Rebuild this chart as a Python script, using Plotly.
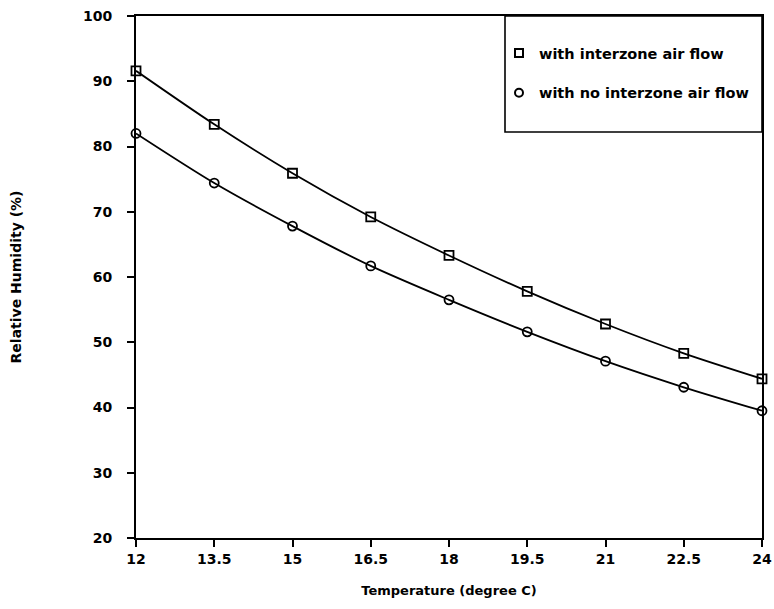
import plotly.graph_objects as go

temps = [12, 13.5, 15, 16.5, 18, 19.5, 21, 22.5, 24]
rh_interzone = [91.6, 83.4, 75.9, 69.2, 63.3, 57.8, 52.8, 48.3, 44.4]
rh_no_interzone = [82.0, 74.4, 67.8, 61.7, 56.5, 51.6, 47.1, 43.1, 39.5]
x_ticks = [12, 13.5, 15, 16.5, 18, 19.5, 21, 22.5, 24]
x_tick_text = ["12", "13.5", "15", "16.5", "18", "19.5", "21", "22.5", "24"]
y_ticks = [20, 30, 40, 50, 60, 70, 80, 90, 100]
name_a = "with interzone air flow"
name_b = "with no interzone air flow"

FONT = "DejaVu Sans"
fig = go.Figure()
fig.add_trace(go.Scatter(x=temps, y=rh_interzone, mode="lines+markers",
                         line=dict(color="black", width=1.8, shape="spline", smoothing=0.8),
                         marker=dict(symbol="square-open", size=9, color="black", line=dict(width=1.8)),
                         showlegend=False, cliponaxis=False))
fig.add_trace(go.Scatter(x=temps, y=rh_no_interzone, mode="lines+markers",
                         line=dict(color="black", width=1.8, shape="spline", smoothing=0.8),
                         marker=dict(symbol="circle-open", size=9, color="black", line=dict(width=1.8)),
                         showlegend=False, cliponaxis=False))
# legend-only entries
fig.add_trace(go.Scatter(x=[None], y=[None], mode="markers", name=name_a, legendgroup="a",
                         marker=dict(symbol="square-open", size=8, color="black", line=dict(width=2))))
fig.add_trace(go.Scatter(x=[None], y=[None], mode="markers", name=name_b, legendgroup="b",
                         marker=dict(symbol="circle-open", size=8, color="black", line=dict(width=2))))

L, R, T, B = 136, 762, 16, 538
# legend box in the top-right corner of the plot
fig.add_shape(type="rect", xref="paper", yref="paper",
              x0=(505 - L) / (R - L), x1=1, y0=(B - 132) / (B - T), y1=1,
              line=dict(color="black", width=1.6), fillcolor="white", layer="below")

fig.update_layout(
    width=774, height=609,
    margin=dict(l=L, r=774 - R, t=T, b=609 - B, autoexpand=False),
    paper_bgcolor="white", plot_bgcolor="white",
    font=dict(family=FONT, color="black"),
    legend=dict(x=(499 - L) / (R - L), y=(B - 37) / (B - T), xanchor="left", yanchor="top",
                bgcolor="rgba(0,0,0,0)", borderwidth=0, tracegroupgap=18,
                font=dict(size=14.5, family=FONT, weight="bold"), itemwidth=30),
    xaxis=dict(range=[12, 24], tickvals=x_ticks, ticktext=x_tick_text, automargin=False,
               showgrid=False, zeroline=False, showline=True, linecolor="black", linewidth=1.8,
               mirror=True, ticks="outside", ticklen=7, tickwidth=1.6, tickcolor="black",
               tickfont=dict(size=14, family=FONT, weight="bold"),
               title=dict(text="Temperature (degree C)", font=dict(size=13, family=FONT, weight="bold"),
                          standoff=20)),
    yaxis=dict(range=[20, 100], tickvals=y_ticks, automargin=False, ticklabelstandoff=12,
               showgrid=False, zeroline=False, showline=True, linecolor="black", linewidth=1.8,
               mirror=True, ticks="outside", ticklen=7, tickwidth=1.6, tickcolor="black",
               tickfont=dict(size=14, family=FONT, weight="bold"),
               title=dict(text="Relative Humidity (%)", font=dict(size=14, family=FONT, weight="bold"),
                          standoff=58)),
)

fig.write_html("out.html")
